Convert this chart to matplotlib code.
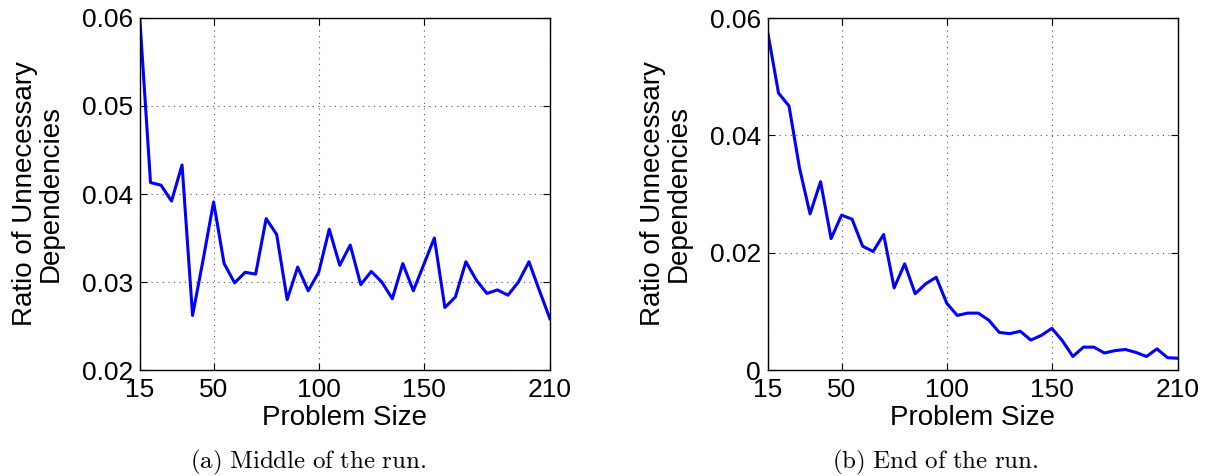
import numpy as np
import matplotlib
matplotlib.use('Agg')
import matplotlib.pyplot as plt
from matplotlib import rc

# Problem sizes (15 .. 210 in steps of 5)
problem_size = list(range(15, 211, 5))

# (a) Middle of the run
ratio_middle = [0.0596, 0.0413, 0.0410, 0.0392, 0.0433, 0.0262, 0.0325, 0.0391,
                0.0321, 0.0299, 0.0311, 0.0309, 0.0372, 0.0354, 0.0280, 0.0317,
                0.0290, 0.0311, 0.0360, 0.0319, 0.0342, 0.0297, 0.0312, 0.0300,
                0.0281, 0.0321, 0.0290, 0.0320, 0.0350, 0.0271, 0.0283, 0.0323,
                0.0302, 0.0287, 0.0291, 0.0285, 0.0300, 0.0323, 0.0290, 0.0258]

# (b) End of the run
ratio_end = [0.0573, 0.0472, 0.0450, 0.0344, 0.0266, 0.0321, 0.0224, 0.0264,
             0.0257, 0.0211, 0.0202, 0.0231, 0.0140, 0.0181, 0.0130, 0.0147,
             0.0158, 0.0114, 0.0093, 0.0097, 0.0097, 0.0085, 0.0064, 0.0062,
             0.0066, 0.0051, 0.0059, 0.0071, 0.0050, 0.0023, 0.0039, 0.0039,
             0.0029, 0.0033, 0.0035, 0.0030, 0.0023, 0.0036, 0.0021, 0.0020]

x_ticks = [15, 50, 100, 150, 210]
y_ticks_middle = [0.02, 0.03, 0.04, 0.05, 0.06]
y_ticks_end = [0, 0.02, 0.04, 0.06]
captions = ['(a) Middle of the run.', '(b) End of the run.']

rc('font', **{'family': 'Liberation Sans'})
rc('mathtext', fontset='cm')

W, H = 1207, 476
fig = plt.figure(figsize=(W / 100, H / 100), dpi=100)


def panel(left_px, yvals, yticks, ylim, caption, caption_x):
    ax = fig.add_axes([left_px / W, (H - 370) / H, 410 / W, 352 / H])
    ax.plot(problem_size, yvals, color='#0000ff', lw=2.2)
    ax.set_xlim(15, 210)
    ax.set_ylim(*ylim)
    ax.set_xticks(x_ticks)
    ax.set_yticks(yticks)
    ax.set_yticklabels(['%g' % v for v in yticks])
    ax.grid(True, ls=(0, (1, 4)), color='#555555', lw=0.8)
    ax.tick_params(axis='both', which='major', direction='in', top=True,
                   right=True, length=5, width=0.8, labelsize=19)
    ax.tick_params(axis='x', pad=6)
    ax.tick_params(axis='y', pad=5)
    for s in ax.spines.values():
        s.set_linewidth(1.0)
    ax.set_xlabel('Problem Size', fontsize=20, labelpad=2)
    ax.set_ylabel('Ratio of Unnecessary\nDependencies', fontsize=20,
                  linespacing=1.0, labelpad=13)
    fig.text(caption_x / W, (H - 462) / H,
             r'$\mathrm{' + caption.replace(' ', r'\ ') + '}$',
             ha='center', va='center', fontsize=18)
    return ax


panel(140, ratio_middle, y_ticks_middle, (0.02, 0.06), captions[0], 308)
panel(768, ratio_end, y_ticks_end, (0, 0.06), captions[1], 935)

fig.savefig('out.png', dpi=100)
